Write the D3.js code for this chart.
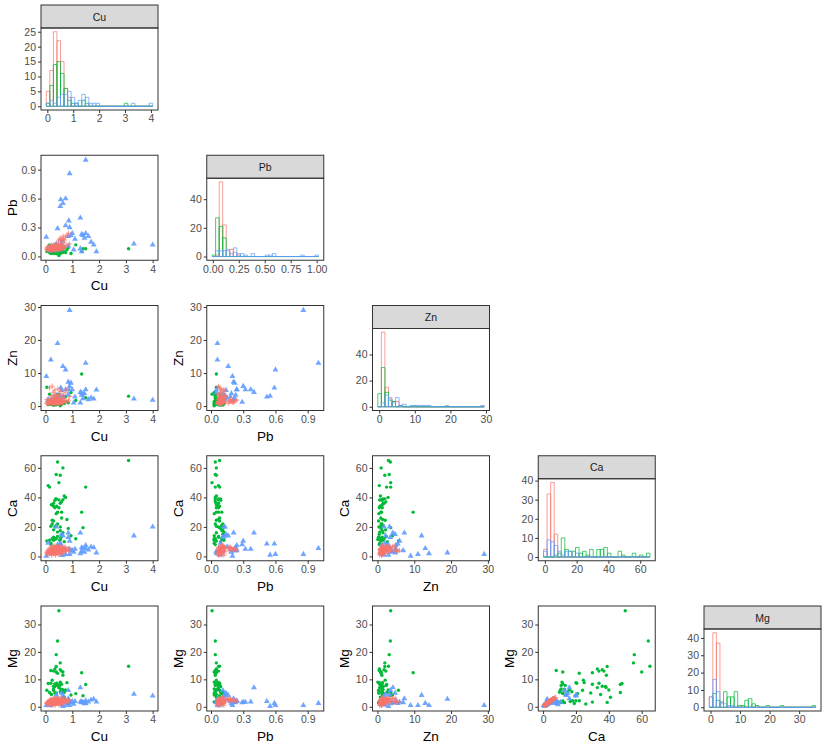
<!DOCTYPE html>
<html>
<head>
<meta charset="utf-8">
<script src="https://cdn.jsdelivr.net/npm/d3@7"></script>
<style>
  body { margin: 0; background: #fff; }
  text { font-family: "Liberation Sans", Arial, sans-serif; }
</style>
</head>
<body>
<div class="chart"></div>
<script>
// variables in the matrix, in order
const variables = ['Cu', 'Pb', 'Zn', 'Ca', 'Mg'];
const groupNames = ['A', 'B', 'C'];
const groupColors = ['#F8766D', '#00BA38', '#619CFF'];

// rows: [Cu, Pb, Zn, Ca, Mg]
const groupA = [
  [0.05,0.07,0.8,2.1,1.2],[0.07,0.08,1.2,3.0,1.5],[0.08,0.10,0.6,1.0,0.6],[0.09,0.07,1.4,4.2,1.9],
  [0.06,0.09,2.0,2.8,1.4],[0.11,0.08,1.1,3.2,1.6],[0.13,0.07,0.9,2.5,1.3],[0.14,0.11,1.3,4.8,2.2],
  [0.15,0.08,5.5,3.6,1.7],[0.16,0.07,1.0,1.9,0.7],[0.17,0.09,2.2,5.2,2.4],[0.18,0.08,1.2,3.2,1.6],
  [0.19,0.06,0.7,2.2,0.7],[0.20,0.10,1.5,6.3,2.8],[0.21,0.08,3.1,4.4,2.1],[0.22,0.07,1.1,0.9,0.7],
  [0.23,0.12,2.4,5.6,2.6],[0.24,0.08,1.0,3.3,1.6],[0.25,0.07,6.0,4.1,1.8],[0.25,0.09,1.3,2.7,1.4],
  [0.26,0.08,0.9,5.0,2.3],[0.27,0.11,1.4,3.8,1.8],[0.27,0.07,2.1,4.6,2.2],[0.28,0.08,1.1,1.6,0.6],
  [0.29,0.10,4.2,6.8,3.0],[0.29,0.08,1.2,3.1,1.5],[0.30,0.07,0.8,4.3,2.1],[0.30,0.09,1.5,5.4,2.5],
  [0.31,0.08,2.5,3.5,1.7],[0.31,0.12,1.0,2.4,1.2],[0.32,0.08,1.2,2.8,1.4],[0.32,0.07,3.4,6.1,2.7],
  [0.33,0.09,1.4,3.0,1.5],[0.33,0.08,0.7,4.5,2.1],[0.34,0.11,1.1,5.8,2.6],[0.34,0.08,2.0,2.0,1.1],
  [0.35,0.07,1.3,3.0,1.5],[0.35,0.10,4.8,7.2,3.2],[0.36,0.08,1.0,3.7,1.8],[0.36,0.09,1.6,5.1,2.4],
  [0.37,0.08,2.3,4.2,1.9],[0.37,0.12,1.2,0.8,0.6],[0.38,0.08,1.1,3.4,1.7],[0.39,0.09,0.9,4.7,2.2],
  [0.39,0.07,1.4,5.9,2.7],[0.40,0.11,2.8,3.2,1.6],[0.41,0.08,1.2,2.4,1.2],[0.41,0.10,1.0,2.6,1.3],
  [0.42,0.08,3.0,6.5,2.9],[0.43,0.07,1.3,4.0,1.9],[0.43,0.09,1.1,5.3,2.5],[0.44,0.12,2.1,3.6,1.8],
  [0.45,0.08,0.8,4.8,2.3],[0.45,0.11,1.5,7.6,3.4],[0.46,0.08,1.2,2.9,1.4],[0.46,0.09,5.2,4.3,1.9],
  [0.47,0.10,1.0,5.0,2.4],[0.47,0.08,1.4,3.9,1.9],[0.48,0.13,2.4,6.2,2.8],[0.48,0.08,1.1,1.3,0.8],
  [0.49,0.09,1.3,2.7,1.4],[0.49,0.16,0.9,5.5,2.6],[0.50,0.08,3.6,3.3,1.6],[0.50,0.11,1.2,4.1,1.9],
  [0.52,0.18,1.5,5.7,2.6],[0.53,0.08,1.1,3.5,1.7],[0.54,0.10,2.2,4.9,2.3],[0.55,0.17,1.3,6.6,3.0],
  [0.56,0.08,1.0,2.3,1.2],[0.57,0.12,4.5,4.4,2.1],[0.58,0.19,1.4,5.2,2.5],[0.59,0.09,1.2,3.8,1.8],
  [0.60,0.11,2.6,7.0,3.1],[0.61,0.08,1.1,3.3,1.6],[0.62,0.13,3.2,5.4,2.5],[0.62,0.10,0.9,3.0,1.5],
  [0.63,0.09,1.3,4.2,1.9],[0.64,0.18,2.0,6.0,2.7],[0.64,0.08,1.2,2.6,1.3],[0.66,0.21,1.1,4.6,2.2],
  [0.69,0.11,2.3,5.8,2.7],[0.71,0.17,1.6,3.7,1.8],[0.73,0.09,4.0,6.4,2.9],[0.75,0.20,1.2,4.8,2.3],
  [0.77,0.12,5.0,3.4,1.7],[0.80,0.22,1.4,5.0,2.4],[0.86,0.24,1.8,4.3,2.1],[0.90,0.13,2.9,5.6,2.6]
];

const groupB = [
  [0.50,0.01,3.6,50,35],[0.45,0.04,3.5,64,24],[0.40,0.04,3.2,55.5,19],[0.55,0.05,2.0,55,16],
  [3.10,0.08,3.0,65,14.8],[0.65,0.05,1.0,60,12.7],[0.10,0.07,0.5,48,8.5],[1.50,0.08,2.5,47,8.1],
  [0.15,0.04,3.6,47,5.2],[0.38,0.09,1.5,39,1.6],[0.70,0.05,0.8,41,3.5],[0.65,0.04,1.2,38.5,11.5],
  [0.40,0.07,2.0,39,14.7],[0.55,0.05,1.8,36,13.5],[0.60,0.04,2.3,37,13.0],[0.35,0.05,0.5,33,13.8],
  [0.30,0.07,0.7,34,13.0],[1.35,0.05,9.7,30,12.4],[0.60,0.07,1.1,30,8.2],[0.45,0.10,0.9,30,1.7],
  [0.50,0.07,1.3,33,7.0],[0.42,0.08,0.8,34,8.6],[0.30,0.07,1.6,36,7.5],[0.35,0.09,1.2,38,7.4],
  [0.50,0.07,0.6,38.3,7.0],[0.80,0.07,1.4,25,8.8],[0.25,0.05,2.1,24.5,9.7],[0.45,0.04,1.0,22,12.2],
  [0.55,0.07,0.4,20,8.8],[0.20,0.05,1.1,20.5,8.6],[0.30,0.08,0.3,24,6.0],[0.60,0.08,0.9,26,1.0],
  [0.25,0.11,1.2,22,2.2],[0.40,0.10,1.5,21,4.8],[0.35,0.12,0.8,20,2.2],[0.85,0.09,1.0,19,1.2],
  [0.30,0.11,2.2,18,2.2],[0.45,0.12,0.6,16.5,1.9],[0.55,0.10,1.3,17.5,5.5],[0.40,0.03,0.9,12,12.7],
  [0.20,0.04,0.5,8,13.2],[0.05,0.05,5.7,10.5,6.0],[0.30,0.03,1.4,11,6.5],[0.35,0.10,0.4,12,5.0],
  [0.58,0.07,1.2,13,6.4],[0.45,0.07,2.4,13.5,7.8],[1.40,0.08,3.6,19.5,4.0],[0.60,0.11,0.5,15,5.5],
  [0.25,0.10,1.8,12,2.1],[1.13,0.12,1.7,12,4.8],[0.30,0.11,0.3,13,1.5],[0.70,0.09,2.7,10,5.3],
  [0.20,0.03,0.6,9,1.8],[0.15,0.12,1.1,11,1.5],[0.55,0.03,0.1,11.5,9.0],[0.35,0.04,1.0,12,8.3],
  [0.95,0.03,4.1,14,4.3],[0.53,0.04,0.8,11,7.8],[0.65,0.05,1.5,16,6.2],[0.40,0.03,0.4,29,5.0],
  [0.22,0.05,1.3,35,4.5],[0.75,0.04,2.9,40,6.1]
];

const groupC = [
  [0.90,0.86,29,1.5,0.5],[1.50,1.00,13,5.5,1.3],[4.00,0.12,1.8,20,4.0],[3.30,0.13,2.2,14,4.6],
  [0.45,0.06,19,2.5,2.8],[0.20,0.06,14,2.0,0.5],[0.65,0.16,12,14,4.2],[0.75,0.60,11,1.5,0.5],
  [0.03,0.20,9,0.3,0.5],[0.55,0.52,2.8,8.5,2.0],[0.57,0.59,5.5,8.5,1.3],[0.65,0.55,3.0,1.0,0.2],
  [1.30,0.40,4.2,16,7.0],[0.87,0.37,5.0,5.0,1.8],[0.90,0.30,6.0,10.5,1.7],[0.75,0.32,5.0,5.0,1.7],
  [1.00,0.24,5.0,4.0,2.0],[0.45,0.29,1.2,8.0,1.5],[1.35,0.23,3.3,6.0,1.9],[1.40,0.22,2.3,5.5,1.6],
  [1.50,0.24,5.0,7.5,2.2],[1.70,0.15,2.5,6.5,2.5],[1.80,0.12,2.2,6.0,2.8],[1.90,0.05,4.9,2.5,1.8],
  [0.60,0.14,4.8,15,5.0],[0.85,0.21,7.3,16,3.0],[0.95,0.22,7.0,4.0,1.5],[0.40,0.13,3.3,20,4.3],
  [1.05,0.07,1.0,3.0,1.0],[1.30,0.08,1.0,2.0,1.8],[1.35,0.05,4.0,3.5,1.5],[0.30,0.10,2.5,6.0,2.2],
  [0.60,0.08,1.8,1.0,0.7],[1.10,0.18,2.8,5.0,2.0],[1.45,0.19,3.8,3.0,1.2],[0.10,0.09,2.0,9.0,0.8],
  [0.85,0.11,3.5,13,6.0],[1.60,0.21,2.0,4.5,1.8]
];

// tick values, per variable
const cuTicks = [0, 1, 2, 3, 4];
const pbTicks = [0, 0.3, 0.6, 0.9];
const pbHistTicks = [0, 0.25, 0.5, 0.75, 1];
const znTicks = [0, 10, 20, 30];
const caTicks = [0, 20, 40, 60];
const mgTicks = [0, 10, 20, 30];
const countTicks = [[0, 5, 10, 15, 20, 25], [0, 20, 40], [0, 20, 40], [0, 10, 20, 30, 40], [0, 10, 20, 30, 40]];

const scatterTicks = [cuTicks, pbTicks, znTicks, caTicks, mgTicks];
const histTicks = [cuTicks, pbHistTicks, znTicks, caTicks, mgTicks];
const scatterFmt = [d3.format('d'), d3.format('.1f'), d3.format('d'), d3.format('d'), d3.format('d')];
const histFmt = [d3.format('d'), d3.format('.2f'), d3.format('d'), d3.format('d'), d3.format('d')];

const groups = [groupA, groupB, groupC];
const nBins = 30;

const left0 = 41, top0 = 5;
const colStep = 165.75, rowStep = 150.25;
const panelW = 117, panelH = 105, stripH = 23;

const svg = d3.select('.chart')
  .append('svg')
    .attr('width', 830)
    .attr('height', 750);

function allValues(vi) {
  return groups.flatMap(g => g.map(d => d[vi]));
}

function expand([lo, hi], m = 0.05) {
  let pad = (hi - lo) * m;
  return [lo - pad, hi + pad];
}

function styleAxis(g) {
  g.select('.domain').remove();
  g.selectAll('.tick line').attr('stroke', '#333333');
  g.selectAll('.tick text')
    .attr('fill', '#4D4D4D')
    .style('font-size', '10.5px')
    .style('font-family', '"Liberation Sans", Arial, sans-serif');
}

// point shapes per group: plus, circle, triangle
const triangle = d3.symbol(d3.symbolTriangle, 15)();
function drawPoints(g, data, gi, x, y, xi, yi) {
  let col = groupColors[gi];
  if (gi === 0) {
    g.selectAll(null).data(data).enter().append('path')
      .attr('d', d => `M${x(d[xi]) - 2.6},${y(d[yi])}h5.2M${x(d[xi])},${y(d[yi]) - 2.6}v5.2`)
      .attr('stroke', col)
      .attr('stroke-width', 1)
      .attr('stroke-opacity', 0.75)
      .attr('fill', 'none');
  } else if (gi === 1) {
    g.selectAll(null).data(data).enter().append('circle')
      .attr('cx', d => x(d[xi]))
      .attr('cy', d => y(d[yi]))
      .attr('r', 1.7)
      .attr('fill', col);
  } else {
    g.selectAll(null).data(data).enter().append('path')
      .attr('d', triangle)
      .attr('transform', d => `translate(${x(d[xi])},${y(d[yi])})`)
      .attr('fill', col)
      .attr('fill-opacity', 0.9);
  }
}

variables.forEach((rowVar, r) => {
  variables.forEach((colVar, c) => {
    if (c > r) return;
    let left = left0 + c * colStep;
    let top = top0 + r * rowStep;
    let plotTop = r === c ? top + stripH : top;
    let plotBottom = top + panelH;

    let panel = svg.append('g');

    if (r === c) {
      // histogram on the diagonal, 30 bins centred on the range ends
      let ext = d3.extent(allValues(c));
      let w = (ext[1] - ext[0]) / (nBins - 1);
      let lo = ext[0] - w / 2, hi = ext[1] + w / 2;
      let edges = d3.range(1, nBins).map(k => lo + k * w);
      let binner = d3.bin().domain([lo, hi]).thresholds(edges);
      let binned = groups.map(g => binner(g.map(d => d[c] + 1e-9)));
      let maxCount = d3.max(binned, b => d3.max(b, d => d.length));

      let x = d3.scaleLinear().domain(expand([lo, hi])).range([left, left + panelW]);
      let y = d3.scaleLinear().domain(expand([0, maxCount])).range([plotBottom, plotTop]);

      panel.append('rect')
        .attr('x', left).attr('y', top)
        .attr('width', panelW).attr('height', stripH)
        .attr('fill', '#D9D9D9')
        .attr('stroke', '#333333')
        .attr('stroke-width', 1);
      panel.append('text')
        .attr('x', left + panelW / 2)
        .attr('y', top + stripH / 2 + 4)
        .attr('text-anchor', 'middle')
        .attr('fill', '#1A1A1A')
        .style('font-size', '10.5px')
        .text(colVar);

      // paths so that empty bins still show as a line on the baseline
      binned.forEach((bins, gi) => {
        panel.selectAll(null).data(bins).enter().append('path')
          .attr('d', d => `M${x(d.x0)},${y(0)}V${y(d.length)}H${x(d.x1)}V${y(0)}Z`)
          .attr('fill', 'none')
          .attr('stroke', groupColors[gi])
          .attr('stroke-opacity', 0.8)
          .attr('stroke-width', 0.9);
      });

      panel.append('g')
        .attr('transform', `translate(0, ${plotBottom})`)
        .call(d3.axisBottom(x).tickValues(histTicks[c]).tickFormat(histFmt[c]).tickSize(3).tickPadding(2))
        .call(styleAxis);
      panel.append('g')
        .attr('transform', `translate(${left}, 0)`)
        .call(d3.axisLeft(y).tickValues(countTicks[c]).tickSize(3).tickPadding(2))
        .call(styleAxis);
    } else {
      // scatter below the diagonal
      let x = d3.scaleLinear().domain(expand(d3.extent(allValues(c)))).range([left, left + panelW]);
      let y = d3.scaleLinear().domain(expand(d3.extent(allValues(r)))).range([plotBottom, plotTop]);

      [1, 2, 0].forEach(gi => drawPoints(panel, groups[gi], gi, x, y, c, r));

      panel.append('g')
        .attr('transform', `translate(0, ${plotBottom})`)
        .call(d3.axisBottom(x).tickValues(scatterTicks[c]).tickFormat(scatterFmt[c]).tickSize(3).tickPadding(2))
        .call(styleAxis);
      panel.append('g')
        .attr('transform', `translate(${left}, 0)`)
        .call(d3.axisLeft(y).tickValues(scatterTicks[r]).tickFormat(scatterFmt[r]).tickSize(3).tickPadding(2))
        .call(styleAxis);

      panel.append('text')
        .attr('x', left + panelW / 2)
        .attr('y', plotBottom + 30)
        .attr('text-anchor', 'middle')
        .style('font-size', '13.5px')
        .text(colVar);
      panel.append('text')
        .attr('transform', `translate(${left - 24}, ${(plotTop + plotBottom) / 2}) rotate(-90)`)
        .attr('text-anchor', 'middle')
        .style('font-size', '13.5px')
        .text(rowVar);
    }

    panel.append('rect')
      .attr('x', left).attr('y', plotTop)
      .attr('width', panelW).attr('height', plotBottom - plotTop)
      .attr('fill', 'none')
      .attr('stroke', '#333333')
      .attr('stroke-width', 1);
  });
});
</script>
</body>
</html>
